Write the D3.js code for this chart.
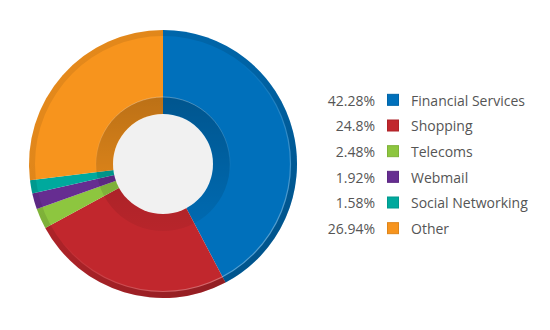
<!DOCTYPE html>
<html>
<head>
<meta charset="utf-8">
<script src="https://cdn.jsdelivr.net/npm/d3@7"></script>
<style>
  html, body { margin: 0; padding: 0; background: #fff; }
  svg { display: block; }
  text { font-family: "Open Sans", sans-serif; }
</style>
</head>
<body>
<svg id="chart" width="550" height="330"></svg>
<script>
// Share of traffic by category
const categories = ["Financial Services", "Shopping", "Telecoms", "Webmail", "Social Networking", "Other"];
const shares = [42.28, 24.8, 2.48, 1.92, 1.58, 26.94];
const colors = ["#0070bb", "#c1272d", "#8dc63f", "#662d91", "#00a99d", "#f7941d"];

const svg = d3.select("#chart");
const cx = 163, cy = 164;
const rOuter = 134, rRim = 128, rShade = 67, rHole = 50;

const defs = svg.append("defs");
const rimGrad = defs.append("linearGradient").attr("id", "rimShade")
  .attr("x1", "0").attr("y1", "0").attr("x2", "1").attr("y2", "1");
rimGrad.append("stop").attr("offset", "0").attr("stop-color", "#000").attr("stop-opacity", 0.06);
rimGrad.append("stop").attr("offset", "0.5").attr("stop-color", "#000").attr("stop-opacity", 0.12);
rimGrad.append("stop").attr("offset", "1").attr("stop-color", "#000").attr("stop-opacity", 0.3);

const rimLine = defs.append("linearGradient").attr("id", "rimLine")
  .attr("x1", "0").attr("y1", "0").attr("x2", "1").attr("y2", "1");
rimLine.append("stop").attr("offset", "0.45").attr("stop-color", "#fff").attr("stop-opacity", 0);
rimLine.append("stop").attr("offset", "1").attr("stop-color", "#fff").attr("stop-opacity", 0.45);

const innerGrad = defs.append("linearGradient").attr("id", "innerShade")
  .attr("x1", "0").attr("y1", "0").attr("x2", "0").attr("y2", "1");
innerGrad.append("stop").attr("offset", "0").attr("stop-color", "#000").attr("stop-opacity", 0.24);
innerGrad.append("stop").attr("offset", "0.6").attr("stop-color", "#000").attr("stop-opacity", 0.12);
innerGrad.append("stop").attr("offset", "1").attr("stop-color", "#000").attr("stop-opacity", 0.05);

const innerLine = defs.append("linearGradient").attr("id", "innerLine")
  .attr("x1", "0").attr("y1", "0").attr("x2", "0").attr("y2", "1");
innerLine.append("stop").attr("offset", "0").attr("stop-color", "#fff").attr("stop-opacity", 0.3);
innerLine.append("stop").attr("offset", "0.6").attr("stop-color", "#fff").attr("stop-opacity", 0);

const pie = d3.pie().sort(null).value(d => d)(shares);
const arc = d3.arc().innerRadius(0).outerRadius(rOuter);

const g = svg.append("g").attr("transform", `translate(${cx},${cy})`);
g.selectAll("path.slice").data(pie).join("path")
  .attr("class", "slice")
  .attr("d", arc)
  .attr("fill", (d, i) => colors[i]);

// bevelled outer rim
g.append("path")
  .attr("d", d3.arc().innerRadius(rRim).outerRadius(rOuter).startAngle(0).endAngle(2 * Math.PI)())
  .attr("fill", "url(#rimShade)");
g.append("circle").attr("r", rRim - 0.5)
  .attr("fill", "none").attr("stroke", "url(#rimLine)").attr("stroke-width", 1.2);

// shaded ring around the hole
g.append("path")
  .attr("d", d3.arc().innerRadius(rHole).outerRadius(rShade).startAngle(0).endAngle(2 * Math.PI)())
  .attr("fill", "url(#innerShade)");
g.append("circle").attr("r", rShade)
  .attr("fill", "none").attr("stroke", "url(#innerLine)").attr("stroke-width", 1);

g.append("circle").attr("r", rHole).attr("fill", "#f1f1f1");

// legend
const y = d3.scaleBand().domain(categories).range([88, 242]).paddingInner(0);
const legend = svg.append("g");
const rows = legend.selectAll("g").data(categories).join("g")
  .attr("transform", d => `translate(0,${y(d) + y.bandwidth() / 2})`);
rows.append("text")
  .attr("x", 375).attr("dy", "0.35em").attr("text-anchor", "end")
  .attr("font-size", 14).attr("fill", "#555")
  .text((d, i) => shares[i] + "%");
rows.append("rect")
  .attr("x", 387.5).attr("y", -6.5).attr("width", 11).attr("height", 11)
  .attr("fill", (d, i) => colors[i])
  .attr("stroke", (d, i) => d3.color(colors[i]).darker(0.3)).attr("stroke-width", 1);
rows.append("text")
  .attr("x", 411).attr("dy", "0.35em")
  .attr("font-size", 14).attr("fill", "#555")
  .text(d => d);
</script>
</body>
</html>
